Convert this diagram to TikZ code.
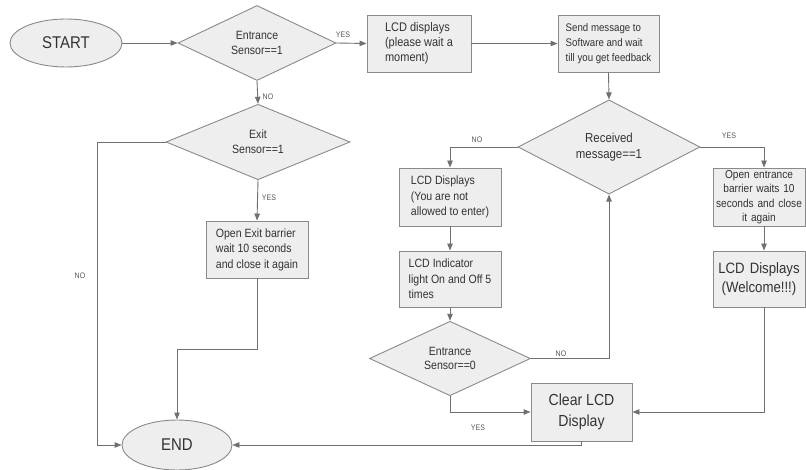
\documentclass[tikz,border=0pt]{standalone}
\usepackage{fontspec}
\setmainfont[FakeStretch=0.88]{Liberation Sans}
\usetikzlibrary{shapes.geometric,arrows.meta}
\definecolor{boxfill}{HTML}{EEEEEE}
\definecolor{boxline}{HTML}{8A8A8A}
\definecolor{conn}{HTML}{707070}
\definecolor{txt}{HTML}{333333}
\definecolor{lbl}{HTML}{555555}
\tikzset{
  procbox/.style={draw=boxline, fill=boxfill, line width=0.9pt, rectangle, inner sep=0pt, text=txt},
  decision/.style={draw=boxline, fill=boxfill, line width=0.9pt, diamond, inner sep=0pt, text=txt, align=center},
  terminal/.style={draw=boxline, fill=boxfill, line width=0.9pt, ellipse, inner sep=0pt, text=txt},
  arr/.style={draw=conn, line width=0.9pt, -{Triangle[length=7pt,width=5.5pt]}},
  lab/.style={text=lbl, font=\fontsize{8}{9}\selectfont, inner sep=0pt},
}
\begin{document}
\begin{tikzpicture}[x=1pt,y=-1pt]
\useasboundingbox (0,0) rectangle (806,470);
\clip (0,0) rectangle (806,470);
% terminals
\node[terminal, minimum width=112, minimum height=48, font=\fontsize{17}{20}\selectfont] (start) at (66,43) {START};
\node[terminal, minimum width=110, minimum height=50, font=\fontsize{17}{20}\selectfont] (endn) at (177,445) {END};
% decisions
\node[decision, minimum width=158, minimum height=72, font=\fontsize{12}{15}\selectfont] (ent) at (257,43) {Entrance\\Sensor==1};
\node[decision, minimum width=184, minimum height=70, font=\fontsize{12}{15}\selectfont] (exit) at (258,142) {Exit\\Sensor==1};
\node[decision, minimum width=182, minimum height=71, font=\fontsize{13}{16}\selectfont] (recv) at (609,147) {Received\\message==1};
\node[decision, minimum width=161, minimum height=71, font=\fontsize{12}{15.5}\selectfont] (ent0) at (450,358.5) {Entrance\\[-1pt]Sensor==0};
% process boxes
\node[procbox, minimum width=104, minimum height=57, align=left, font=\fontsize{12.5}{15}\selectfont] (lcd1) at (419,43.5) {LCD displays\\(please wait a\\moment)};
\node[procbox, minimum width=101, minimum height=57, align=left, font=\fontsize{11}{15}\selectfont] (send) at (608.5,43.5) {Send message to\\Software and wait\\till you get feedback};
\node[procbox, minimum width=102, minimum height=57, align=left, font=\fontsize{12}{15.5}\selectfont] (oexit) at (257,249.5) {Open Exit barrier\\wait 10 seconds\\and close it again};
\node[procbox, minimum width=102, minimum height=58, align=left, font=\fontsize{12}{15.5}\selectfont] (lcdno) at (450,197) {LCD Displays\\(You are not\\allowed to enter)};
\node[procbox, minimum width=102, minimum height=56, align=left, font=\fontsize{12}{15.5}\selectfont] (ind) at (450,279) {LCD Indicator\\light On and Off 5\\times};
\node[procbox, minimum width=101, minimum height=58, align=center, font=\fontsize{16}{20.5}\selectfont] (clear) at (581.5,412) {Clear LCD\\Display};
\node[procbox, minimum width=92, minimum height=58, text width=92, align=center, font=\fontsize{11.5}{14.5}\selectfont] (oe) at (759,197) {Open entrance\\barrier waits 10\\seconds and close\\it again};
\node[procbox, minimum width=92, minimum height=56, text width=92, align=center, font=\fontsize{15}{19}\selectfont] (wel) at (759,279) {LCD Displays\\(Welcome!!!)};
% helper coordinates
\coordinate (rx) at (764,0);
\coordinate (lx) at (97,0);
\coordinate (y349) at (0,349);
% connectors
\draw[arr] (start.east) -- (ent.west);
\draw[arr] (ent.east) -- (lcd1.west);
\draw[arr] (lcd1.east) -- (send.west);
\draw[arr] (send.south) -- (recv.north);
\draw[arr] (ent.south) -- (exit.north);
\draw[arr] (exit.south) -- (oexit.north);
\draw[arr] (exit.west) -| (lx |- endn.west) -- (endn.west);
\draw[arr] (oexit.south) |- (y349 -| endn.north) -- (endn.north);
\draw[arr] (recv.west) -| (lcdno.north);
\draw[arr] (lcdno.south) -- (ind.north);
\draw[arr] (ind.south) -- (ent0.north);
\draw[arr] (ent0.east) -| (recv.south);
\draw[arr] (ent0.south) |- (clear.west);
\draw[arr] (recv.east) -| (rx |- oe.north);
\draw[arr] (rx |- oe.south) -- (rx |- wel.north);
\draw[arr] (rx |- wel.south) |- (clear.east);
\draw[arr] (clear.south) |- (endn.east);
% labels
\node[lab] (l1) at (343,35) {YES};
\node[lab] (l2) at (268,97) {NO};
\node[lab] (l3) at (269,198) {YES};
\node[lab] (l4) at (80,276) {NO};
\node[lab] (l5) at (477,140) {NO};
\node[lab] (l6) at (729,136) {YES};
\node[lab] (l7) at (561,354) {NO};
\node[lab] (l8) at (478,428) {YES};
\end{tikzpicture}
\end{document}
